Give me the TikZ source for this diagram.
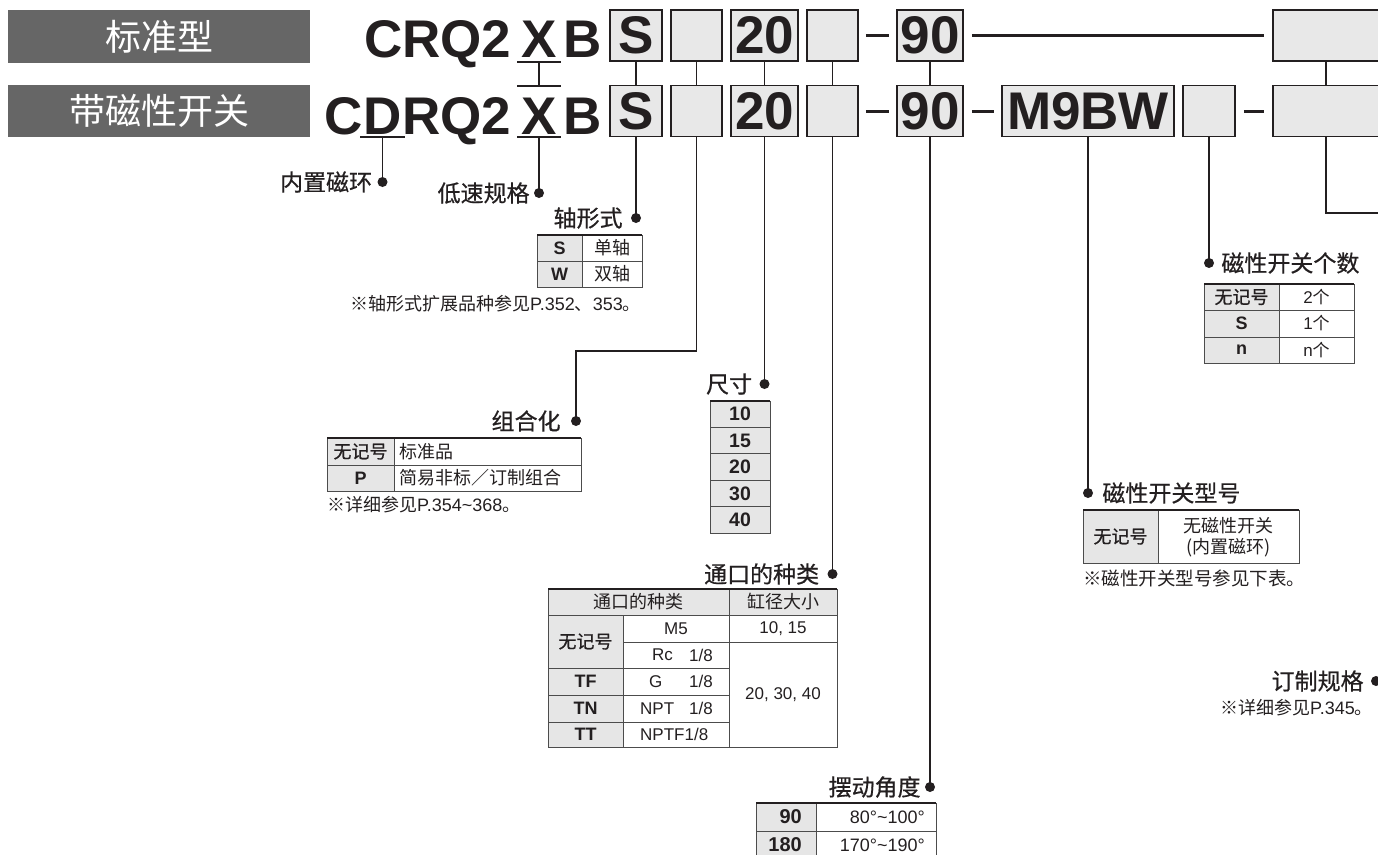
\documentclass[tikz,border=0pt]{standalone}
\usepackage{fontspec}
\setmainfont{Liberation Sans}
\newfontfamily\cjk{Noto Sans CJK SC}
\newfontfamily\cjkm{Noto Sans CJK SC}[FakeBold=0.6]
\usetikzlibrary{positioning,calc}
\definecolor{hdrgray}{HTML}{666666}
\definecolor{boxgray}{HTML}{E8E8E8}
\definecolor{cellgray}{HTML}{E6E6E6}
\definecolor{ink}{HTML}{231F20}
\newcommand\bigf{\fontsize{53}{60}\selectfont\bfseries}
\begin{document}
\begin{tikzpicture}[x=1pt,y=-1pt,
  cbox/.style={draw=ink, line width=1.8pt, fill=boxgray, inner sep=0pt, minimum height=51pt, text=ink, font=\bigf},
  hdr/.style={fill=hdrgray, text=white, font=\cjk\fontsize{36}{40}\selectfont, minimum width=302pt, minimum height=53pt, inner sep=0pt},
  big/.style={inner sep=0pt, font=\bigf, text=ink},
  conn/.style={draw=ink, line width=1.4pt},
  bar/.style={draw=ink, line width=3pt},
  uline/.style={draw=ink, line width=1.8pt},
  dot/.style={circle, fill=ink, inner sep=0pt, minimum size=10pt},
  lbl/.style={font=\cjkm\fontsize{23}{26}\selectfont, text=ink, inner sep=0pt},
  note/.style={font=\fontsize{18}{20}\selectfont, text=ink, inner sep=0pt},
  tbl/.style={draw=black!70, line width=1pt},
  tbltop/.style={draw=ink, line width=2.4pt},
  tc/.style={font=\cjk\fontsize{18}{20}\selectfont, text=ink, inner sep=0pt},
  tcb/.style={font=\cjkm\fontsize{18}{20}\selectfont, text=ink, inner sep=0pt},
  tl/.style={font=\fontsize{17}{20}\selectfont, text=ink, inner sep=0pt},
  tlb/.style={font=\fontsize{18}{20}\selectfont\bfseries, text=ink, inner sep=0pt},
]
\useasboundingbox (0,0) rectangle (1378,854);

% headers
\node[hdr] (h1) at (159,36.5) {标准型};
\node[hdr, minimum height=52pt] (h2) at (159,111) {带磁性开关};

% row 1 text
\node[big, anchor=base east] (crq) at (511.5,57) {CRQ2};
\node[big, anchor=base] (xa) at (539,57) {X};
\node[big, anchor=base] (ba) at (583,57) {B};
% row 2 text
\node[big, anchor=base] (dd) at (382.5,134.5) {D};
\node[big, anchor=base east] (cc2) at (dd.base west) {C};
\node[big, anchor=base west] (rq2) at (dd.base east) {RQ2};
\node[big, anchor=base] (xb) at (539,134.5) {X};
\node[big, anchor=base] (bb) at (583,134.5) {B};

% underlines
\coordinate (xu1) at (539,62);
\coordinate (xo2) at (539,86);
\coordinate (xu2) at (539,137);
\coordinate (du) at (382.5,137);
\draw[uline] ([xshift=-22pt]xu1) -- ([xshift=22pt]xu1);
\draw[uline] ([xshift=-22pt]xo2) -- ([xshift=22pt]xo2);
\draw[uline] ([xshift=-22pt]xu2) -- ([xshift=22pt]xu2);
\draw[uline] ([xshift=-22.5pt]du) -- ([xshift=22.5pt]du);
\draw[conn] (xu1) -- (xo2);

% row 1 boxes
\node[cbox, minimum width=52pt] (s1) at (636,35.5) {S};
\node[cbox, minimum width=51pt] (e1a) at (696.5,35.5) {};
\node[cbox, minimum width=67pt] (n20a) at (764.5,35.5) {20};
\node[cbox, minimum width=51pt] (e2a) at (832.5,35.5) {};
\node[cbox, minimum width=66pt] (n90a) at (930,35.5) {90};
\node[cbox, minimum width=106pt] (rba) at (1326,35.5) {};
% row 2 boxes
\node[cbox, minimum width=52pt] (s2) at (636,111) {S};
\node[cbox, minimum width=51pt] (e1b) at (696.5,111) {};
\node[cbox, minimum width=67pt] (n20b) at (764.5,111) {20};
\node[cbox, minimum width=51pt] (e2b) at (832.5,111) {};
\node[cbox, minimum width=66pt] (n90b) at (930,111) {90};
\node[cbox, minimum width=172pt] (m9) at (1088,111) {M9BW};
\node[cbox, minimum width=52pt] (e3b) at (1209,111) {};
\node[cbox, minimum width=106pt] (rbb) at (1326,111) {};

% dashes
\draw[bar] ([xshift=7pt]e2a.east) -- ([xshift=-7pt]n90a.west);
\draw[bar] ([xshift=8pt]n90a.east) -- ([xshift=-8pt]rba.west);
\draw[bar] ([xshift=7pt]e2b.east) -- ([xshift=-7pt]n90b.west);
\draw[bar] ([xshift=8pt]n90b.east) -- ([xshift=-7pt]m9.west);
\draw[bar] ([xshift=8pt]e3b.east) -- ([xshift=-8pt]rbb.west);

% between rows
\draw[conn] (s1.south) -- (s2.north);
\draw[conn] (e1a.south) -- (e1b.north);
\draw[conn] (n20a.south) -- (n20b.north);
\draw[conn] (e2a.south) -- (e2b.north);
\draw[conn] (n90a.south) -- (n90b.north);
\draw[conn] (rba.south) -- (rbb.north);

% dots
\node[dot] (dmag) at (382.5,182) {};
\node[dot] (dlow) at (539,193) {};
\node[dot] (dsh) at (s2.south |- 0,218) {};
\node[dot] (dcomb) at (576,421) {};
\node[dot] (dsize) at (n20b.south |- 0,384) {};
\node[dot] (dport) at (e2b.south |- 0,574) {};
\node[dot] (dang) at (n90b.south |- 0,787) {};
\node[dot] (dsw) at (m9.south |- 0,493) {};
\node[dot] (dnum) at (e3b.south |- 0,263) {};
\node[dot] (dcus) at (1376,681) {};

\draw[conn] (du) -- (dmag.center);
\draw[conn] (xu2) -- (dlow.center);
\draw[conn] (s2.south) -- (dsh.center);
\coordinate (ccorner) at (576,351);
\draw[conn] (e1b.south) |- (ccorner) -- (dcomb.center);
\draw[conn] (n20b.south) -- (dsize.center);
\draw[conn] (e2b.south) -- (dport.center);
\draw[conn] (n90b.south) -- (dang.center);
\draw[conn] (m9.south) -- (dsw.center);
\draw[conn] (e3b.south) -- (dnum.center);
\coordinate (rbend) at (1386,213);
\draw[conn] (rbb.south) |- (rbend);

% labels
\node[lbl, left=5pt of dmag] (lmag) {内置磁环};
\node[lbl, left=4pt of dlow] (llow) {低速规格};
\node[lbl, left=8pt of dsh] (lsh) {轴形式};
\node[lbl, left=10pt of dcomb] (lcomb) {组合化};
\node[lbl, left=7pt of dsize] (lsize) {尺寸};
\node[lbl, left=8pt of dport] (lport) {通口的种类};
\node[lbl, left=4pt of dang] (lang) {摆动角度};
\node[lbl, right=9pt of dsw] (lsw) {磁性开关型号};
\node[lbl, right=7pt of dnum] (lnum) {磁性开关个数};
\node[lbl, left=7pt of dcus] (lcus) {订制规格};

% table shaft
\fill[cellgray] (537,235) rectangle (582,287);
\draw[tbl] (537,235) rectangle (642,287) (537,261) -- (642,261) (582,235) -- (582,287);
\draw[tbltop] (537,235) -- (642,235);
\node[tlb] (ts) at (559.5,248) {S};
\node[tc] (ts2) at (612,248) {单轴};
\node[tlb] (tw) at (559.5,274) {W};
\node[tc] (tw2) at (612,274) {双轴};
\node[note, anchor=east] (nsh) at (641,304) {{\cjk ※轴形式扩展品种参见}P.352{\cjk 、}353{\cjk 。}};

% table combination
\fill[cellgray] (327,438) rectangle (394,491);
\draw[tbl] (327,438) rectangle (581,491) (327,465) -- (581,465) (394,438) -- (394,491);
\draw[tbltop] (327,438) -- (581,438);
\node[tcb] (tc1) at (360.5,451.5) {无记号};
\node[tc, anchor=west] (tc2) at (399,451.5) {标准品};
\node[tlb] (tc3) at (360.5,478) {P};
\node[tc, anchor=west] (tc4) at (399,478) {简易非标／订制组合};
\node[note, anchor=west] (ncomb) at (327,505) {{\cjk ※详细参见}P.354\textasciitilde 368{\cjk 。}};

% table size
\fill[cellgray] (710,401) rectangle (770,533);
\draw[tbl] (710,401) rectangle (770,533) (710,427.4) -- (770,427.4) (710,453.8) -- (770,453.8) (710,480.2) -- (770,480.2) (710,506.6) -- (770,506.6);
\draw[tbltop] (710,401) -- (770,401);
\node[tlb, font=\fontsize{19.5}{22}\selectfont\bfseries] (z1) at (740,414.2) {10};
\node[tlb, font=\fontsize{19.5}{22}\selectfont\bfseries] (z2) at (740,440.6) {15};
\node[tlb, font=\fontsize{19.5}{22}\selectfont\bfseries] (z3) at (740,467) {20};
\node[tlb, font=\fontsize{19.5}{22}\selectfont\bfseries] (z4) at (740,493.4) {30};
\node[tlb, font=\fontsize{19.5}{22}\selectfont\bfseries] (z5) at (740,519.8) {40};

% table port
\fill[cellgray] (548,589) rectangle (837,615) (548,615) rectangle (623,747);
\draw[tbl] (548,589) rectangle (837,747);
\draw[tbl] (548,615) -- (837,615) (623,642) -- (837,642) (548,668) -- (729,668) (548,695) -- (729,695) (548,722) -- (729,722) (623,615) -- (623,747) (729,589) -- (729,747);
\draw[tbltop] (548,589) -- (837,589);
\node[tc] (p0) at (638.5,602) {通口的种类};
\node[tc] (p0b) at (783,602) {缸径大小};
\node[tcb] (p1) at (585.5,641.5) {无记号};
\node[tl] (p1b) at (676,628.5) {M5};
\node[tl] (p1c) at (783,628.5) {10, 15};
\node[tl, anchor=west] (p2) at (652,655) {Rc};
\node[tl, anchor=east] (p2b) at (713,655) {1/8};
\node[tlb] (p3) at (585.5,681.5) {TF};
\node[tl, anchor=west] (p3a) at (649,681.5) {G};
\node[tl, anchor=east] (p3b) at (713,681.5) {1/8};
\node[tlb] (p4) at (585.5,708.5) {TN};
\node[tl, anchor=west] (p4a) at (640,708.5) {NPT};
\node[tl, anchor=east] (p4b) at (713,708.5) {1/8};
\node[tlb] (p5) at (585.5,734.5) {TT};
\node[tl, anchor=west] (p5a) at (640,734.5) {NPTF1/8};
\node[tl] (p6) at (783,695) {20, 30, 40};

% table switch model
\fill[cellgray] (1083,510) rectangle (1158,563);
\draw[tbl] (1083,510) rectangle (1299,563) (1158,510) -- (1158,563);
\draw[tbltop] (1083,510) -- (1299,510);
\node[tcb] (m1) at (1120.5,536.5) {无记号};
\node[tc] (m2) at (1228.5,525.5) {无磁性开关};
\node[tc] (m3) at (1228.5,548) {(内置磁环)};
\node[note, font=\cjk\fontsize{18.5}{21}\selectfont, anchor=west] (nsw) at (1083,578) {※磁性开关型号参见下表。};

% table switch number
\fill[cellgray] (1204,284) rectangle (1279,363);
\draw[tbl] (1204,284) rectangle (1354,363) (1204,310.5) -- (1354,310.5) (1204,337) -- (1354,337) (1279,284) -- (1279,363);
\draw[tbltop] (1204,284) -- (1354,284);
\node[tcb] (k1) at (1241.5,297) {无记号};
\node[tl] (k1b) at (1316.5,297) {2{\cjk 个}};
\node[tlb] (k2) at (1241.5,323.5) {S};
\node[tl] (k2b) at (1316.5,323.5) {1{\cjk 个}};
\node[tlb] (k3) at (1241.5,350) {n};
\node[tl] (k3b) at (1316.5,350) {n{\cjk 个}};

% custom
\node[note, anchor=east] (ncus) at (1373,708) {{\cjk ※详细参见}P.345{\cjk 。}};

% table angle
\fill[cellgray] (756,803) rectangle (816,862);
\draw[tbl] (756,803) rectangle (936,862) (756,831) -- (936,831) (816,803) -- (816,862);
\draw[tbltop] (756,803) -- (936,803);
\node[tlb, font=\fontsize{20}{22}\selectfont\bfseries, anchor=east] (a1) at (802,817) {90};
\node[tlb, font=\fontsize{20}{22}\selectfont\bfseries, anchor=east] (a2) at (802,845) {180};
\node[tl, font=\fontsize{18}{20}\selectfont, anchor=east] (a1b) at (925,817) {80°\textasciitilde 100°};
\node[tl, font=\fontsize{18}{20}\selectfont, anchor=east] (a2b) at (925,845) {170°\textasciitilde 190°};
\end{tikzpicture}
\end{document}
